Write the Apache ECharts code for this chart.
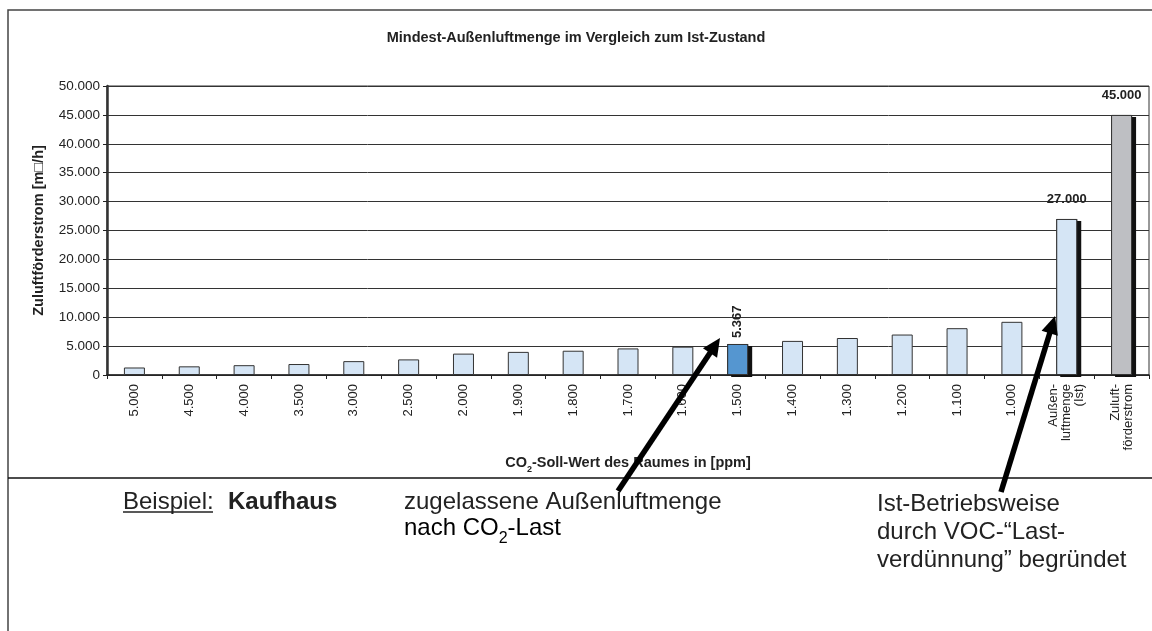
<!DOCTYPE html>
<html><head><meta charset="utf-8">
<script src="https://cdn.jsdelivr.net/npm/echarts@6/dist/echarts.min.js"></script>
<style>html,body{margin:0;padding:0;background:#fff}#c{width:1152px;height:631px}</style>
</head><body><div id="c"></div>
<script>
const categories = ['5.000','4.500','4.000','3.500','3.000','2.500','2.000','1.900','1.800','1.700','1.600','1.500','1.400','1.300','1.200','1.100','1.000','Außen-\nluftmenge\n(Ist)','Zuluft-\nförderstrom'];
const values = [1300,1500,1700,1900,2400,2700,3700,4000,4200,4600,4900,5367,5900,6400,7000,8100,9200,27000,45000];
const yTicks = {min:0, max:50000, interval:5000};
const title = 'Mindest-Außenluftmenge im Vergleich zum Ist-Zustand';
const labelledIdx = [11,17,18];
const shadowIdx = [11,17,18];

const F = '"Liberation Sans", Arial, sans-serif';
const fmt = v => String(v).replace(/\B(?=(\d{3})+(?!\d))/g,'.');

const data = values.map((v,i)=>{
  const d = {value:v};
  let color = '#D5E5F5';
  if (i===11) color='#5596D0';
  if (i===18) color='#BEBFC3';
  d.itemStyle = {color, borderColor:'#333', borderWidth:1};
  if (labelledIdx.includes(i)){
    d.label = i===11
      ? {show:true, position:'top', rotate:90, align:'left', verticalAlign:'middle', distance:6, formatter:p=>fmt(p.value), fontFamily:F, fontWeight:'bold', fontSize:13, color:'#222'}
      : {show:true, position:'top', distance:13, formatter:p=>fmt(p.value), fontFamily:F, fontWeight:'bold', fontSize:13, color:'#222'};
  }
  return d;
});
const shadowData = values.map((v,i)=> shadowIdx.includes(i) ? v : '-');

function arrow(tail, tip){
  const dx=tip[0]-tail[0], dy=tip[1]-tail[1], L=Math.hypot(dx,dy);
  const ux=dx/L, uy=dy/L, nx=-uy, ny=ux;
  const hl=18, hw=8.5;
  const bx=tip[0]-hl*ux, by=tip[1]-hl*uy;
  return [
    {type:'polyline', shape:{points:[tail,[bx+ux*2,by+uy*2]]}, style:{stroke:'#000', lineWidth:5.5}, z:100},
    {type:'polygon', shape:{points:[tip,[bx+hw*nx,by+hw*ny],[bx-hw*nx,by-hw*ny]]}, style:{fill:'#000'}, z:100}
  ];
}

const txt = {fontFamily:F, fontSize:24, fill:'#222'};
const chart = echarts.init(document.getElementById('c'));
chart.setOption({
  animation:false,
  backgroundColor:'#fff',
  title:{text:title, left:'center', top:25, textStyle:{fontFamily:F, fontSize:14.5, fontWeight:'bold', color:'#222'}},
  grid:{left:107, right:3, top:86, bottom:256, show:true, borderColor:'#333', borderWidth:1},
  xAxis:{
    type:'category', data:categories,
    axisLine:{lineStyle:{color:'#222', width:1.5}},
    axisTick:{show:true, length:4, lineStyle:{color:'#222'}},
    axisLabel:{rotate:90, interval:0, margin:9, fontFamily:F, fontSize:13, color:'#222', lineHeight:13},
    name:'{b|CO}{s|2}{b|-Soll-Wert des Raumes in [ppm]}', nameLocation:'middle', nameGap:79,
    nameTextStyle:{rich:{b:{fontFamily:F, fontSize:14.5, fontWeight:'bold', color:'#222', lineHeight:17}, s:{fontFamily:F, fontSize:9, fontWeight:'bold', color:'#222', verticalAlign:'bottom', lineHeight:17, padding:[0,0,-3,0]}}}
  },
  yAxis:{
    type:'value', min:yTicks.min, max:yTicks.max, interval:yTicks.interval,
    axisLine:{show:true, lineStyle:{color:'#333', width:2.5}},
    axisTick:{show:true, length:4, lineStyle:{color:'#222'}},
    axisLabel:{formatter:fmt, margin:7, fontFamily:F, fontSize:13.5, color:'#222'},
    splitLine:{lineStyle:{color:'#333', width:1}},
    name:'Zuluftförderstrom [m\u25A1/h]', nameLocation:'middle', nameGap:61,
    nameTextStyle:{fontFamily:F, fontSize:14.5, fontWeight:'bold', color:'#222'}
  },
  series:[
    {type:'bar', data:shadowData, barWidth:21, barGap:'-100%', silent:true, z:1,
     itemStyle:{color:'#111', shadowColor:'#111', shadowOffsetX:4, shadowOffsetY:2, shadowBlur:0}},
    {type:'bar', data, barWidth:21, barGap:'-100%', z:2}
  ],
  graphic:[
    {type:'polyline', shape:{points:[[8,631],[8,10],[1152,10]]}, style:{stroke:'#444', lineWidth:1.5, fill:null}},
    {type:'line', shape:{x1:8,y1:478,x2:1152,y2:478}, style:{stroke:'#111', lineWidth:1.5}},
    {type:'text', left:123, top:490, style:Object.assign({text:'Beispiel:'},txt)},
    {type:'line', shape:{x1:123,y1:512,x2:213,y2:512}, style:{stroke:'#222', lineWidth:1.5}},
    {type:'text', left:228, top:490, style:Object.assign({text:'Kaufhaus'},txt,{fontWeight:'bold'})},
    {type:'text', left:404, top:490, style:Object.assign({text:'zugelassene Außenluftmenge'},txt)},
    {type:'text', left:404, top:516, style:{text:'{a|nach CO}{s|2}{a|-Last}', rich:{a:{fontFamily:F,fontSize:24,color:'#222',lineHeight:27}, s:{fontFamily:F,fontSize:16,color:'#222',lineHeight:27,verticalAlign:'bottom',padding:[0,0,-5,0]}}}},
    {type:'text', left:877, top:490, style:Object.assign({text:'Ist-Betriebsweise\ndurch VOC-\u201CLast-\nverdünnung\u201D begründet', lineHeight:28},txt)},
    ...arrow([618,491],[720,338]),
    ...arrow([1001,492],[1055,316])
  ]
});
</script></body></html>
